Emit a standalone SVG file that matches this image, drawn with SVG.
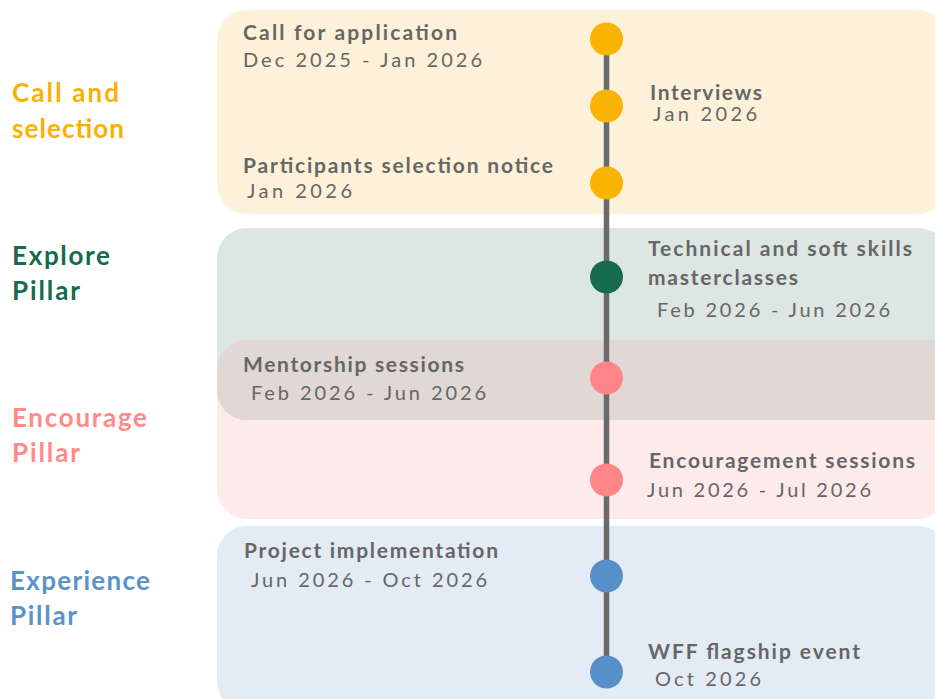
<svg xmlns="http://www.w3.org/2000/svg" width="935" height="699" viewBox="0 0 935 699">
<style>
  .t { font-family: Lato, "Noto Sans", "Liberation Sans", sans-serif; fill: #666666; }
  .h { font-size: 21px; font-weight: 700; }
  .d { font-size: 20px; font-weight: 400; }
  .lab { font-family: Lato, "Noto Sans", "Liberation Sans", sans-serif; font-size: 26px; font-weight: 700; }
  .line { stroke: #6a6a6a; stroke-width: 5.5; fill: none; }
</style>
<rect width="935" height="699" fill="#ffffff"/>
<g id="bands">
  <rect x="217" y="10" width="731" height="204" rx="30" fill="#FEF1D9"/>
  <rect x="217" y="340" width="731" height="179" rx="30" fill="#FDEBEB"/>
  <rect x="217" y="228" width="731" height="192" rx="30" fill="#DCE7E4"/>
  <path d="M247 340 H948 V420 H247 A30 30 0 0 1 217 390 V370 A30 30 0 0 1 247 340 Z" fill="#E0D8D5"/>
  <rect x="217" y="526" width="731" height="185" rx="30" fill="#E3ECF5"/>
</g>
<g id="phase-labels">
  <text class="lab" fill="#F8B100" x="12" y="102" textLength="107" lengthAdjust="spacing">Call and</text>
  <text class="lab" fill="#F8B100" x="12" y="138" textLength="112" lengthAdjust="spacing">selection</text>
  <text class="lab" fill="#166B4E" x="12" y="265" textLength="98" lengthAdjust="spacing">Explore</text>
  <text class="lab" fill="#166B4E" x="12" y="300" textLength="68" lengthAdjust="spacing">Pillar</text>
  <text class="lab" fill="#FF8A8A" x="12" y="427" textLength="135" lengthAdjust="spacing">Encourage</text>
  <text class="lab" fill="#FF8A8A" x="12" y="462" textLength="68" lengthAdjust="spacing">Pillar</text>
  <text class="lab" fill="#5B93C9" x="10" y="590" textLength="140" lengthAdjust="spacing">Experience</text>
  <text class="lab" fill="#5B93C9" x="10" y="625" textLength="67" lengthAdjust="spacing">Pillar</text>
</g>
<g id="connectors">
  <line class="line" x1="606.5" y1="39" x2="606.5" y2="672"/>
</g>
<g id="node-call">
  <circle cx="606.5" cy="39" r="16.5" fill="#F9B300"/>
  <text class="t h" x="243" y="40" textLength="214" lengthAdjust="spacing">Call for application</text>
  <text class="t d" x="243" y="67" textLength="239" lengthAdjust="spacing">Dec 2025 - Jan 2026</text>
</g>
<g id="node-interviews">
  <circle cx="606.5" cy="106" r="16.5" fill="#F9B300"/>
  <text class="t h" x="650" y="100" textLength="112" lengthAdjust="spacing">Interviews</text>
  <text class="t d" x="653" y="121" textLength="104" lengthAdjust="spacing">Jan 2026</text>
</g>
<g id="node-selection">
  <circle cx="606.5" cy="183" r="16.5" fill="#F9B300"/>
  <text class="t h" x="243" y="173" textLength="310" lengthAdjust="spacing">Participants selection notice</text>
  <text class="t d" x="247" y="198" textLength="105" lengthAdjust="spacing">Jan 2026</text>
</g>
<g id="node-masterclasses">
  <circle cx="606.5" cy="277" r="16.5" fill="#176B4F"/>
  <text class="t h" x="648" y="256" textLength="264" lengthAdjust="spacing">Technical and soft skills</text>
  <text class="t h" x="648" y="285" textLength="150" lengthAdjust="spacing">masterclasses</text>
  <text class="t d" x="657" y="317" textLength="233" lengthAdjust="spacing">Feb 2026 - Jun 2026</text>
</g>
<g id="node-mentorship">
  <circle cx="606.5" cy="378" r="16.5" fill="#FF8686"/>
  <text class="t h" x="243" y="372" textLength="221" lengthAdjust="spacing">Mentorship sessions</text>
  <text class="t d" x="251" y="400" textLength="235" lengthAdjust="spacing">Feb 2026 - Jun 2026</text>
</g>
<g id="node-encouragement">
  <circle cx="606.5" cy="480" r="16.5" fill="#FF8686"/>
  <text class="t h" x="649" y="468" textLength="266" lengthAdjust="spacing">Encouragement sessions</text>
  <text class="t d" x="647" y="497" textLength="224" lengthAdjust="spacing">Jun 2026 - Jul 2026</text>
</g>
<g id="node-project">
  <circle cx="606.5" cy="576" r="16.5" fill="#5790C9"/>
  <text class="t h" x="244" y="558" textLength="254" lengthAdjust="spacing">Project implementation</text>
  <text class="t d" x="251" y="587" textLength="236" lengthAdjust="spacing">Jun 2026 - Oct 2026</text>
</g>
<g id="node-flagship">
  <circle cx="606.5" cy="672" r="16.5" fill="#5790C9"/>
  <text class="t h" x="648" y="659" textLength="212" lengthAdjust="spacing">WFF flagship event</text>
  <text class="t d" x="655" y="686" textLength="106" lengthAdjust="spacing">Oct 2026</text>
</g>
</svg>
